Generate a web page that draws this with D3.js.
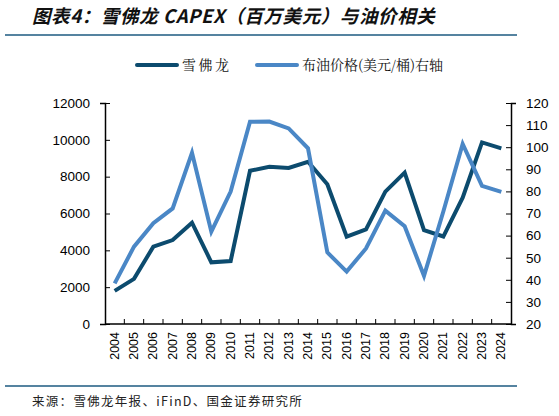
<!DOCTYPE html>
<html>
<head>
<meta charset="utf-8">
<script src="https://cdn.jsdelivr.net/npm/d3@7"></script>
<style>
  body { margin: 0; background: #fff; }
  svg { display: block; }
</style>
</head>
<body>
<div id="chart"></div>
<script>
// years and series
const years = ["2004","2005","2006","2007","2008","2009","2010","2011","2012","2013","2014",
               "2015","2016","2017","2018","2019","2020","2021","2022","2023","2024"];
const capex = [1800, 2450, 4200, 4560, 5500, 3350, 3420, 8320, 8540, 8470, 8810,
               7590, 4740, 5140, 7190, 8220, 5100, 4750, 6860, 9860, 9540];
const brent = [38.4, 55.0, 65.6, 72.3, 97.5, 61.8, 79.9, 111.5, 111.6, 108.5, 99.5,
               52.4, 43.7, 54.2, 71.3, 64.2, 41.8, 70.9, 101.5, 82.5, 79.8];
const leftTicks = [0, 2000, 4000, 6000, 8000, 10000, 12000];
const rightTicks = [20, 30, 40, 50, 60, 70, 80, 90, 100, 110, 120];
const seriesNames = ["雪佛龙", "布油价格(美元/桶)右轴"];

const width = 559, height = 416;
const margin = { top: 103, right: 48, bottom: 92, left: 105 };
const darkBlue = "#0c4b6e", lightBlue = "#4a87c6";

const svg = d3.select("#chart").append("svg")
    .attr("width", width)
    .attr("height", height);

// title
svg.append("text")
    .attr("x", 32).attr("y", 23)
    .attr("font-family", "'Noto Sans CJK SC', sans-serif")
    .attr("font-size", 18.5)
    .attr("font-weight", "bold")
    .attr("font-style", "italic")
    .attr("letter-spacing", 0.6)
    .attr("fill", "#111")
    .text("图表4：雪佛龙 CAPEX（百万美元）与油价相关");

svg.append("line")
    .attr("x1", 5).attr("x2", 517).attr("y1", 35).attr("y2", 35)
    .attr("stroke", "#1d5a80").attr("stroke-width", 1.5);

svg.append("line")
    .attr("x1", 5).attr("x2", 517).attr("y1", 386).attr("y2", 386)
    .attr("stroke", "#1d5a80").attr("stroke-width", 1.5);

svg.append("text")
    .attr("x", 32).attr("y", 406)
    .attr("font-family", "'Noto Sans CJK SC', sans-serif")
    .attr("font-size", 12.5)
    .attr("letter-spacing", 1.3)
    .attr("fill", "#222")
    .text("来源：雪佛龙年报、iFinD、国金证券研究所");

const x = d3.scaleBand()
    .domain(years)
    .range([margin.left, width - margin.right]);

const yL = d3.scaleLinear()
    .domain([0, 12000])
    .range([height - margin.bottom, margin.top]);

const yR = d3.scaleLinear()
    .domain([20, 120])
    .range([height - margin.bottom, margin.top]);

const axisFont = "'Liberation Sans', Arial, sans-serif";

// x axis with ticks at band edges
const gx = svg.append("g")
    .attr("transform", `translate(0,${height - margin.bottom})`);
gx.append("line")
    .attr("x1", margin.left).attr("x2", width - margin.right)
    .attr("stroke", "#000").attr("stroke-width", 1.5);
gx.selectAll("line.tk")
    .data(years.slice(1))
    .join("line")
    .attr("class", "tk")
    .attr("x1", d => x(d)).attr("x2", d => x(d))
    .attr("y1", 0).attr("y2", -5)
    .attr("stroke", "#000");
gx.selectAll("text")
    .data(years)
    .join("text")
    .attr("transform", d => `translate(${x(d) + x.bandwidth() / 2 + 4},8) rotate(-90)`)
    .attr("text-anchor", "end")
    .attr("font-family", axisFont)
    .attr("font-size", 12.5)
    .attr("fill", "#000")
    .text(d => d);

const gl = svg.append("g")
    .attr("transform", `translate(${margin.left},0)`)
    .call(d3.axisLeft(yL).tickValues(leftTicks).tickSize(5).tickPadding(10).tickFormat(d3.format("d")));
gl.selectAll("text").attr("font-family", axisFont).attr("font-size", 13.5).attr("fill", "#000");
gl.select(".domain").attr("stroke-width", 1.5);
gl.selectAll(".tick line").attr("x2", 5);

const gr = svg.append("g")
    .attr("transform", `translate(${width - margin.right},0)`)
    .call(d3.axisRight(yR).tickValues(rightTicks).tickSize(5).tickPadding(10));
gr.selectAll("text").attr("font-family", axisFont).attr("font-size", 13.5).attr("fill", "#000");
gr.select(".domain").attr("stroke-width", 1.5);
gr.selectAll(".tick line").attr("x2", -5);

const cx = d => x(d) + x.bandwidth() / 2;

svg.append("path")
    .datum(years.map((d, i) => [d, capex[i]]))
    .attr("fill", "none")
    .attr("stroke", darkBlue)
    .attr("stroke-width", 4)
    .attr("stroke-linejoin", "miter")
    .attr("d", d3.line().x(d => cx(d[0])).y(d => yL(d[1])));

svg.append("path")
    .datum(years.map((d, i) => [d, brent[i]]))
    .attr("fill", "none")
    .attr("stroke", lightBlue)
    .attr("stroke-width", 4)
    .attr("stroke-linejoin", "miter")
    .attr("d", d3.line().x(d => cx(d[0])).y(d => yR(d[1])));

// legend
const legend = svg.append("g").attr("font-family", "'Noto Serif CJK SC', 'Noto Sans CJK SC', serif").attr("font-size", 14);
const legendX = [137, 257];
const legendColors = [darkBlue, lightBlue];
const legendSpacing = [2.5, 0];
seriesNames.forEach((name, i) => {
    legend.append("line")
        .attr("x1", legendX[i]).attr("x2", legendX[i] + 40)
        .attr("y1", 65).attr("y2", 65)
        .attr("stroke", legendColors[i]).attr("stroke-width", 4)
        .attr("stroke-linecap", "round");
    legend.append("text")
        .attr("x", legendX[i] + 45).attr("y", 70)
        .attr("letter-spacing", legendSpacing[i])
        .attr("fill", "#111")
        .text(name);
});
</script>
</body>
</html>
